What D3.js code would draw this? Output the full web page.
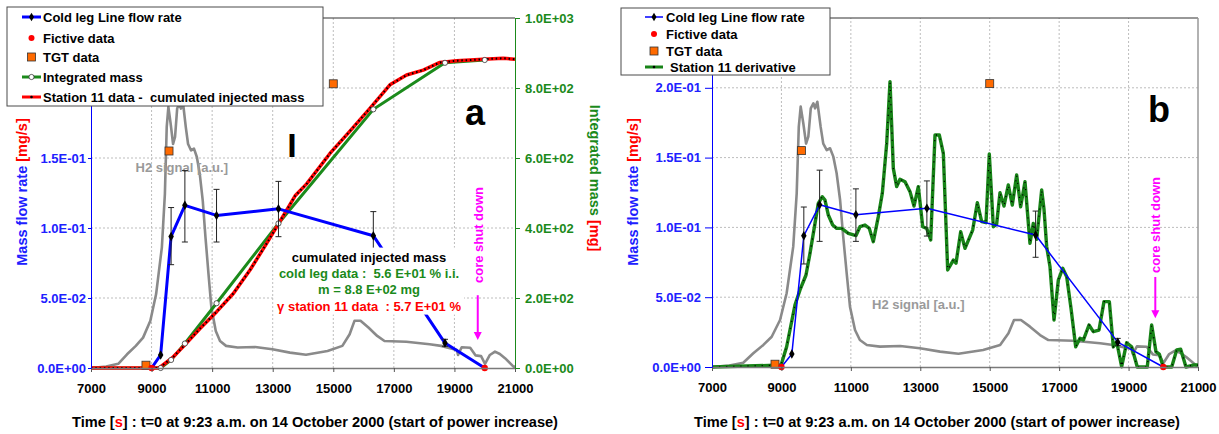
<!DOCTYPE html>
<html>
<head>
<meta charset="utf-8">
<script src="https://cdn.jsdelivr.net/npm/d3@7"></script>
<style>
body { margin: 0; background: #fff; }
svg text { font-family: "Liberation Sans", Arial, sans-serif; font-weight: bold; white-space: pre; }
</style>
</head>
<body>
<svg id="chart" width="1219" height="434"></svg>
<script>
(function() {
"use strict";

// ---- data ----
var timeTicks = [7000, 9000, 11000, 13000, 15000, 17000, 19000, 21000];
var flowTicks = [0, 0.05, 0.1, 0.15, 0.2];
var massTicks = [0, 200, 400, 600, 800, 1000];

var coldLegTime = [9000, 9300, 9645, 10100, 11145, 13190, 16322, 18688, 20000];
var coldLegFlow = [0, 0.0093, 0.094, 0.1162, 0.109, 0.1137, 0.0945, 0.0178, 0];
var coldLegErrLo = [null, null, 0.0738, 0.090, 0.090, 0.0938, 0.0786, 0.0155, null];
var coldLegErrHi = [null, null, 0.1146, 0.141, 0.1276, 0.1333, 0.1117, 0.0205, null];

var fictiveTime = [9000, 20000];
var fictiveFlow = [0, 0];

var tgtTime = [8815, 9576, 15000];
var tgtFlow = [0.002, 0.155, 0.203];

var integratedTime = [7000, 9300, 9645, 10100, 11145, 13190, 16322, 18688, 20000];
var integratedMass = [0, 0, 23, 70, 185, 413, 739, 872, 880];

var station11Time = [7000, 9250, 9720, 10100, 10600, 11150, 11700, 12250, 12800, 13200, 13460, 13740,
  14120, 14890, 15550, 16210, 16870, 17420, 17970, 18520, 19070, 19950, 20610, 21000];
var station11Mass = [0, 0, 32, 66, 113, 161, 213, 280, 356, 413, 451, 492,
  526, 613, 677, 742, 809, 837, 851, 873, 878, 882, 885, 882];

var h2Time = [7000, 7500, 7900, 8190, 8480, 8720, 8960, 9150, 9340, 9440, 9500, 9555, 9630, 9710, 9775,
  9845, 9920, 9970, 10035, 10130, 10205, 10305, 10400, 10495, 10590, 10690, 10780, 10880, 10975, 11120,
  11260, 11460, 11840, 12420, 12990, 13570, 14100, 14810, 15300, 15540, 15700, 15900, 16160, 16450,
  16690, 17410, 18180, 18560, 19080, 19120, 19240, 19520, 19700, 19880, 20010, 20170, 20340, 20500,
  20670, 20950, 21000];
var h2Signal = [0, 0.001, 0.003, 0.0098, 0.0158, 0.0217, 0.0337, 0.0528, 0.0862, 0.1244, 0.172, 0.1865,
  0.1746, 0.160, 0.165, 0.1853, 0.1889, 0.1853, 0.190, 0.172, 0.160, 0.1554, 0.1567, 0.1507, 0.1388,
  0.1196, 0.0933, 0.0671, 0.0432, 0.0265, 0.0193, 0.0158, 0.0146, 0.0150, 0.0134, 0.0110, 0.0095,
  0.0122, 0.0158, 0.0241, 0.0337, 0.0337, 0.0289, 0.0229, 0.0193, 0.0188, 0.0170, 0.0158, 0.0129,
  0.0093, 0.0148, 0.0145, 0.0090, 0.0085, 0.0030, 0.0093, 0.0117, 0.0100, 0.0070, 0.0010, 0.0010];

var derivTime = [7000, 8990, 9150, 9390, 9535, 9708, 9823, 9967, 10062, 10178, 10255, 10350, 10477,
  10592, 10736, 10927, 11148, 11263, 11407, 11531, 11647, 11791, 11906, 12032, 12128, 12223, 12320,
  12416, 12560, 12704, 12819, 12943, 13070, 13185, 13300, 13424, 13549, 13664, 13789, 13952, 14029,
  14164, 14288, 14509, 14643, 14768, 14893, 14988, 15104, 15200, 15296, 15411, 15536, 15651, 15776,
  15891, 16016, 16160, 16256, 16352, 16429, 16497, 16564, 16641, 16737, 16852, 16977, 17103, 17218,
  17342, 17477, 17601, 17697, 17860, 17985, 18148, 18292, 18446, 18561, 18657, 18801, 18945, 19089,
  19251, 19539, 19665, 19789, 19885, 20000, 20242, 20386, 20501, 20654, 20864, 21000];
var derivFlow = [0, 0.0014, 0.0145, 0.0444, 0.0552, 0.0659, 0.0814, 0.1029, 0.1172, 0.122, 0.1196,
  0.1089, 0.1017, 0.0993, 0.0993, 0.0958, 0.0941, 0.1005, 0.1017, 0.0993, 0.0898, 0.1077, 0.1244,
  0.160, 0.2044, 0.1423, 0.1292, 0.1345, 0.1327, 0.1256, 0.1153, 0.1292, 0.1005, 0.0993, 0.091,
  0.1662, 0.1662, 0.153, 0.0695, 0.0766, 0.0743, 0.0969, 0.085, 0.0981, 0.1177, 0.1041, 0.1034,
  0.1526, 0.1005, 0.1024, 0.1249, 0.1153, 0.1304, 0.116, 0.1375, 0.1148, 0.1327, 0.0886, 0.1029,
  0.0915, 0.1101, 0.1268, 0.113, 0.0862, 0.0718, 0.0337, 0.0623, 0.0707, 0.0647, 0.042, 0.0145,
  0.0206, 0.0193, 0.0301, 0.0253, 0.0265, 0.0468, 0.0468, 0.0145, 0.0181, 0.0002, 0.0174, 0.0145,
  0, 0, 0.0301, 0.011, 0.0093, 0, 0, 0.0122, 0.0127, 0, 0.0014, 0.0014];

var shutdownTime = 19770;

// ---- styles ----
var BLUE = "#2020ff", GREEN = "#1b8a1b", DGREEN = "#178317", RED = "#ff0000",
  ORANGE = "#ff6a00", MAGENTA = "#ff00ff", GRAY = "#8a8a8a";

var svg = d3.select("#chart");

function zip(xs, ys) {
  return xs.map(function(v, i) { return [v, ys[i]]; });
}

function fmtE(v) {
  if (v === 0) { return "0.0E+00"; }
  var e = Math.floor(Math.log10(v) + 1e-9);
  var m = v / Math.pow(10, e);
  var ae = Math.abs(e);
  return m.toFixed(1) + "E" + (e < 0 ? "-" : "+") + (ae < 10 ? "0" : "") + ae;
}

function styleText(sel, size, fill) {
  sel.attr("font-size", size).attr("font-weight", "bold").attr("fill", fill)
    .attr("font-family", "Liberation Sans, Arial, sans-serif");
}

function legend(box, rows) {
  var g = svg.append("g");
  g.append("rect").attr("x", box.x).attr("y", box.y).attr("width", box.w).attr("height", box.h)
    .attr("fill", "#fff").attr("stroke", "#4a4a4a").attr("stroke-width", 1);
  rows.forEach(function(r, i) {
    var cy = box.rowY[i];
    var x0 = box.sx0, x1 = box.sx1, cx = (x0 + x1) / 2;
    if (r.line) {
      g.append("line").attr("x1", x0).attr("x2", x1).attr("y1", cy).attr("y2", cy)
        .attr("stroke", r.line).attr("stroke-width", r.lw || 3);
    }
    if (r.mark === "diamond") {
      g.append("path").attr("d", d3.symbol(d3.symbolDiamond, 22)())
        .attr("transform", "translate(" + cx + "," + cy + ")").attr("fill", "#000");
    } else if (r.mark === "dot") {
      g.append("circle").attr("cx", cx).attr("cy", cy).attr("r", 3).attr("fill", RED);
    } else if (r.mark === "square") {
      g.append("rect").attr("x", cx - 4).attr("y", cy - 4).attr("width", 8).attr("height", 8)
        .attr("fill", ORANGE).attr("stroke", "#333").attr("stroke-width", 0.8);
    } else if (r.mark === "open") {
      g.append("circle").attr("cx", cx).attr("cy", cy).attr("r", 2.6)
        .attr("fill", "#fff").attr("stroke", "#333").attr("stroke-width", 0.8);
    } else if (r.mark === "small") {
      g.append("circle").attr("cx", cx).attr("cy", cy).attr("r", 1.3).attr("fill", "#000");
    }
    g.append("text").attr("x", box.tx + (r.dx || 0)).attr("y", cy + 4.5).text(r.label)
      .call(styleText, 13, "#000");
  });
}

function drawPanel(cfg) {
  var g = svg.append("g");
  var x = d3.scaleLinear().domain([7000, 21000]).range([cfg.left, cfg.right]);
  var y = d3.scaleLinear().domain([0, 0.25]).range([cfg.bottom, cfg.top]);
  var path = d3.line().x(function(d) { return x(d[0]); }).y(function(d) { return y(d[1]); });

  // grid
  g.append("g").selectAll("line").data(timeTicks.slice(1, -1)).join("line")
    .attr("x1", x).attr("x2", x).attr("y1", cfg.bottom).attr("y2", cfg.top)
    .attr("stroke", "#bdbdbd").attr("stroke-dasharray", "2,2");
  g.append("g").selectAll("line").data(flowTicks.slice(1)).join("line")
    .attr("x1", cfg.left).attr("x2", cfg.right).attr("y1", y).attr("y2", y)
    .attr("stroke", "#bdbdbd").attr("stroke-dasharray", "2,2");
  g.append("line").attr("x1", cfg.left).attr("x2", cfg.right).attr("y1", cfg.top).attr("y2", cfg.top)
    .attr("stroke", "#333").attr("stroke-width", 1.2);
  if (!cfg.massAxis) {
    g.append("line").attr("x1", cfg.right).attr("x2", cfg.right).attr("y1", cfg.top).attr("y2", cfg.bottom)
      .attr("stroke", "#999").attr("stroke-width", 1.5);
  }

  // H2 signal
  g.append("path").attr("d", path(zip(h2Time, h2Signal))).attr("fill", "none")
    .attr("stroke", GRAY).attr("stroke-width", 2.6).attr("stroke-linejoin", "round");
  g.append("text").attr("x", x(cfg.h2Label[0])).attr("y", y(cfg.h2Label[1]))
    .text("H2 signal [a.u.]").call(styleText, 13, "#9a9a9a");

  var yM = d3.scaleLinear().domain([0, 1000]).range([cfg.bottom, cfg.top]);
  if (cfg.massAxis) {
    var mpath = d3.line().x(function(d) { return x(d[0]); }).y(function(d) { return yM(d[1]); });
    g.append("path").attr("d", mpath(zip(integratedTime, integratedMass))).attr("fill", "none")
      .attr("stroke", GREEN).attr("stroke-width", 3);
    var s11 = mpath(zip(station11Time, station11Mass));
    g.append("path").attr("d", s11).attr("fill", "none").attr("stroke", RED).attr("stroke-width", 3.5)
      .attr("stroke-linejoin", "round");
    g.append("path").attr("d", s11).attr("fill", "none").attr("stroke", "#000").attr("stroke-width", 2)
      .attr("stroke-dasharray", "1.5,2.8");
    g.append("g").selectAll("circle").data(zip(integratedTime, integratedMass).slice(1)).join("circle")
      .attr("cx", function(d) { return x(d[0]); }).attr("cy", function(d) { return yM(d[1]); })
      .attr("r", 2.6).attr("fill", "#fff").attr("stroke", "#333").attr("stroke-width", 0.8);
  }

  if (cfg.derivative) {
    var dp = path(zip(derivTime, derivFlow));
    g.append("path").attr("d", dp).attr("fill", "none").attr("stroke", DGREEN).attr("stroke-width", 3.4)
      .attr("stroke-linejoin", "round");
    g.append("path").attr("d", dp).attr("fill", "none").attr("stroke", "#000").attr("stroke-width", 1.3)
      .attr("stroke-dasharray", "1.1,6");
  }

  // cold leg flow rate
  g.append("path").attr("d", path(zip(coldLegTime, coldLegFlow))).attr("fill", "none")
    .attr("stroke", "#0000ff").attr("stroke-width", cfg.blueWidth).attr("stroke-linejoin", "round");
  var eb = g.append("g").attr("stroke", "#222").attr("stroke-width", 1);
  coldLegTime.forEach(function(t, i) {
    if (coldLegErrLo[i] === null) { return; }
    eb.append("line").attr("x1", x(t)).attr("x2", x(t)).attr("y1", y(coldLegErrLo[i])).attr("y2", y(coldLegErrHi[i]));
    eb.append("line").attr("x1", x(t) - 3).attr("x2", x(t) + 3).attr("y1", y(coldLegErrLo[i])).attr("y2", y(coldLegErrLo[i]));
    eb.append("line").attr("x1", x(t) - 3).attr("x2", x(t) + 3).attr("y1", y(coldLegErrHi[i])).attr("y2", y(coldLegErrHi[i]));
  });
  g.append("g").selectAll("path").data(zip(coldLegTime, coldLegFlow).slice(1, -1)).join("path")
    .attr("d", d3.symbol(d3.symbolDiamond, 26)())
    .attr("transform", function(d) { return "translate(" + x(d[0]) + "," + y(d[1]) + ")"; })
    .attr("fill", "#000");

  // TGT and fictive data
  g.append("g").selectAll("rect").data(zip(tgtTime, tgtFlow)).join("rect")
    .attr("x", function(d) { return x(d[0]) - 4; }).attr("y", function(d) { return y(d[1]) - 4; })
    .attr("width", 8).attr("height", 8).attr("fill", ORANGE).attr("stroke", "#333").attr("stroke-width", 0.8);
  g.append("g").selectAll("circle").data(zip(fictiveTime, fictiveFlow)).join("circle")
    .attr("cx", function(d) { return x(d[0]); }).attr("cy", function(d) { return y(d[1]); })
    .attr("r", 3.2).attr("fill", RED);

  // annotation box (panel a)
  if (cfg.note) {
    var n = cfg.note;
    g.append("rect").attr("x", x(n.t) - 94).attr("y", y(n.v) - 14).attr("width", 189).attr("height", 67)
      .attr("fill", "#fff");
    n.lines.forEach(function(l, i) {
      g.append("text").attr("x", x(n.t)).attr("y", y(n.v) + i * 16.3).attr("text-anchor", "middle")
        .text(l[0]).call(styleText, 13, l[1]);
    });
    g.append("text").attr("x", x(cfg.bar[0])).attr("y", y(cfg.bar[1])).attr("text-anchor", "middle")
      .text("I").call(styleText, 34, "#000");
  }

  // core shut down
  var sx = x(shutdownTime);
  g.append("text").attr("transform", "translate(" + (sx + 5) + "," + y(cfg.shut[0]) + ") rotate(-90)")
    .attr("text-anchor", "middle").text("core shut down").call(styleText, 13, MAGENTA);
  g.append("line").attr("x1", sx).attr("x2", sx).attr("y1", y(cfg.shut[1])).attr("y2", y(cfg.shut[2]) - 6)
    .attr("stroke", MAGENTA).attr("stroke-width", 2);
  g.append("path").attr("d", "M" + (sx - 4) + "," + (y(cfg.shut[2]) - 8) + "L" + (sx + 4) + "," +
    (y(cfg.shut[2]) - 8) + "L" + sx + "," + y(cfg.shut[2]) + "Z").attr("fill", MAGENTA);

  // panel letter
  g.append("text").attr("x", x(cfg.letter[1])).attr("y", y(cfg.letter[2])).attr("text-anchor", "middle")
    .text(cfg.letter[0]).call(styleText, 36, "#000");

  // axes
  var xa = g.append("g").attr("transform", "translate(0," + cfg.bottom + ")")
    .call(d3.axisBottom(x).tickValues(timeTicks).tickSize(4).tickSizeOuter(0).tickPadding(12).tickFormat(d3.format("d")));
  xa.select(".domain").attr("stroke", "#7a7a7a").attr("stroke-width", 1.5);
  xa.selectAll(".tick line").attr("stroke", "#555");
  xa.selectAll("text").call(styleText, 13, "#000");

  // labels that the legend would hide are left out
  var ya = g.append("g").attr("transform", "translate(" + cfg.left + ",0)")
    .call(d3.axisLeft(y).tickValues(flowTicks).tickSize(cfg.ytick).tickSizeOuter(0).tickPadding(cfg.ypad)
      .tickFormat(function(d) { return d > cfg.maxLabel ? "" : fmtE(d); }));
  ya.select(".domain").attr("stroke", "#0000ff").attr("stroke-width", 1);
  ya.selectAll(".tick line").attr("stroke", "#0000ff");
  ya.selectAll("text").call(styleText, 13, BLUE);

  var yt = g.append("text").attr("transform", "translate(" + cfg.ytitleX + ",192) rotate(-90)")
    .attr("text-anchor", "middle").call(styleText, 14.5, BLUE);
  yt.append("tspan").text("Mass flow rate ");
  yt.append("tspan").attr("fill", RED).text("[mg/s]");

  if (cfg.massAxis) {
    var ra = g.append("g").attr("transform", "translate(" + cfg.right + ",0)")
      .call(d3.axisRight(yM).tickValues(massTicks).tickFormat(fmtE).tickSize(5).tickSizeOuter(0).tickPadding(5));
    ra.select(".domain").attr("stroke", GREEN).attr("stroke-width", 1);
    ra.selectAll(".tick line").attr("stroke", GREEN);
    ra.selectAll("text").call(styleText, 13, GREEN);
    var rt = g.append("text").attr("transform", "translate(" + (cfg.right + 75) + "," + 178 + ") rotate(90)")
      .attr("text-anchor", "middle").call(styleText, 14.5, GREEN);
    rt.append("tspan").text("Integrated mass ");
    rt.append("tspan").attr("fill", RED).text("[mg]");
  }

  var xt = g.append("text").attr("x", cfg.xtitleX).attr("y", 427).attr("text-anchor", "middle")
    .call(styleText, 14.6, "#000");
  xt.append("tspan").text("Time [");
  xt.append("tspan").attr("fill", RED).text("s");
  xt.append("tspan").text("] : t=0 at 9:23 a.m. on 14 October 2000 (start of power increase)");
}

drawPanel({
  left: 91, right: 515, top: 18, bottom: 368, blueWidth: 3, ytick: 3, ypad: 2, ytitleX: 27,
  massAxis: true, derivative: false, xtitleX: 315, maxLabel: 0.16,
  h2Label: [8470, 0.140],
  note: {
    t: 16180, v: 0.076, lines: [
      ["cumulated injected mass", "#000"],
      ["cold leg data :  5.6 E+01 % i.i.", GREEN],
      ["m = 8.8 E+02 mg", GREEN],
      ["\u03b3 station 11 data  : 5.7 E+01 %", RED]
    ]
  },
  bar: [13640, 0.1505],
  shut: [0.095, 0.052, 0.02],
  letter: ["a", 19680, 0.1736]
});

drawPanel({
  left: 712, right: 1198, top: 18, bottom: 367, blueWidth: 1.5, ytick: 7, ypad: 4, ytitleX: 638,
  massAxis: false, derivative: true, xtitleX: 937, maxLabel: 0.25,
  h2Label: [11610, 0.0415],
  shut: [0.1017, 0.0645, 0.035],
  letter: ["b", 19880, 0.1755]
});

legend({ x: 7, y: 7, w: 316, h: 99, rowY: [17, 38, 57, 77, 97], sx0: 22, sx1: 41, tx: 43 }, [
  { label: "Cold leg Line flow rate", line: "#0000ff", mark: "diamond" },
  { label: "Fictive data", mark: "dot" },
  { label: "TGT data", mark: "square" },
  { label: "Integrated mass", line: GREEN, mark: "open" },
  { label: "Station 11 data -  cumulated injected mass", line: RED, mark: "small" }
]);

legend({ x: 621, y: 8, w: 209, h: 67, rowY: [17, 34, 51, 67], sx0: 645, sx1: 663, tx: 666 }, [
  { label: "Cold leg Line flow rate", line: "#0000ff", lw: 1.5, mark: "diamond" },
  { label: "Fictive data", mark: "dot" },
  { label: "TGT data", mark: "square" },
  { label: "Station 11 derivative", line: DGREEN, mark: "small", dx: 4 }
]);

})();
</script>
</body>
</html>
